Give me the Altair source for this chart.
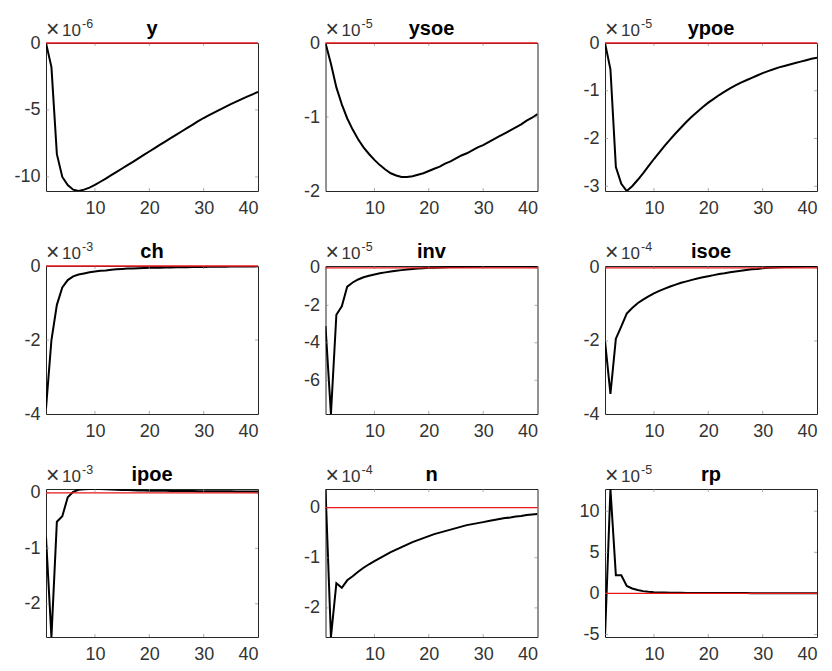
import altair as alt
import pandas as pd

T = list(range(1, 41))

names = ["y", "ysoe", "ypoe", "ch", "inv", "isoe", "ipoe", "n", "rp"]
exponents = ["-6", "-5", "-5", "-3", "-5", "-4", "-3", "-4", "-5"]

y_vals = [0, -1.8, -8.3, -10.0, -10.6, -10.95, -11.04, -10.95, -10.8, -10.6,
          -10.36, -10.12, -9.87, -9.62, -9.37, -9.12, -8.87, -8.61, -8.36, -8.1,
          -7.85, -7.59, -7.34, -7.09, -6.84, -6.59, -6.34, -6.09, -5.84, -5.6,
          -5.39, -5.18, -4.97, -4.77, -4.57, -4.38, -4.19, -4.01, -3.83, -3.65]
ysoe_vals = [0, -0.28, -0.6, -0.83, -1.02, -1.17, -1.30, -1.41, -1.50, -1.58,
             -1.65, -1.71, -1.76, -1.79, -1.81, -1.81, -1.80, -1.78, -1.76, -1.73,
             -1.70, -1.67, -1.63, -1.60, -1.56, -1.52, -1.49, -1.45, -1.41, -1.38,
             -1.34, -1.30, -1.26, -1.22, -1.18, -1.14, -1.10, -1.05, -1.01, -0.96]
ypoe_vals = [0, -0.55, -2.6, -2.95, -3.1, -3.0, -2.87, -2.73, -2.58, -2.43,
             -2.29, -2.15, -2.02, -1.89, -1.77, -1.65, -1.54, -1.44, -1.34, -1.25,
             -1.17, -1.09, -1.02, -0.95, -0.89, -0.83, -0.78, -0.73, -0.68, -0.63,
             -0.59, -0.55, -0.51, -0.48, -0.45, -0.42, -0.39, -0.36, -0.33, -0.31]
ch_vals = [-3.85, -2.0, -1.05, -0.58, -0.38, -0.28, -0.23, -0.2, -0.17, -0.15,
           -0.13, -0.12, -0.1, -0.09, -0.08, -0.07, -0.065, -0.06, -0.055, -0.05,
           -0.047, -0.044, -0.041, -0.038, -0.035, -0.033, -0.031, -0.029, -0.027, -0.025,
           -0.023, -0.021, -0.019, -0.018, -0.016, -0.015, -0.013, -0.012, -0.011, -0.01]
inv_vals = [-3.1, -7.8, -2.5, -2.05, -1.0, -0.78, -0.62, -0.5, -0.42, -0.35,
            -0.29, -0.24, -0.19, -0.15, -0.12, -0.09, -0.06, -0.04, -0.02, 0.0,
            0.01, 0.02, 0.03, 0.04, 0.05, 0.05, 0.06, 0.06, 0.06, 0.07,
            0.07, 0.07, 0.07, 0.08, 0.08, 0.08, 0.08, 0.08, 0.08, 0.08]
isoe_vals = [-2.0, -3.45, -1.94, -1.6, -1.25, -1.1, -0.97, -0.87, -0.78, -0.7,
             -0.63, -0.57, -0.51, -0.46, -0.41, -0.37, -0.33, -0.29, -0.26, -0.23,
             -0.2, -0.17, -0.15, -0.12, -0.1, -0.08, -0.06, -0.04, -0.03, -0.01,
             0.0, 0.01, 0.015, 0.02, 0.025, 0.03, 0.03, 0.035, 0.035, 0.04]
ipoe_vals = [-0.8, -2.6, -0.52, -0.42, -0.08, 0.02, 0.055, 0.065, 0.07, 0.07,
             0.068, 0.065, 0.06, 0.057, 0.054, 0.05, 0.048, 0.045, 0.043, 0.04,
             0.039, 0.038, 0.037, 0.036, 0.035, 0.034, 0.033, 0.032, 0.031, 0.03,
             0.03, 0.029, 0.029, 0.028, 0.028, 0.027, 0.027, 0.026, 0.026, 0.025]
n_vals = [0.37, -2.58, -1.51, -1.6, -1.45, -1.37, -1.28, -1.2, -1.13, -1.07,
          -1.01, -0.95, -0.89, -0.84, -0.79, -0.74, -0.69, -0.65, -0.61, -0.57,
          -0.53, -0.5, -0.47, -0.44, -0.41, -0.38, -0.35, -0.33, -0.31, -0.29,
          -0.27, -0.25, -0.23, -0.21, -0.2, -0.18, -0.17, -0.15, -0.14, -0.13]
rp_vals = [-5.3, 12.7, 2.2, 2.2, 0.9, 0.6, 0.42, 0.28, 0.2, 0.15,
           0.12, 0.1, 0.08, 0.07, 0.07, 0.06, 0.06, 0.05, 0.05, 0.05,
           0.05, 0.04, 0.04, 0.04, 0.04, 0.04, 0.04, 0.03, 0.03, 0.03,
           0.03, 0.03, 0.03, 0.03, 0.03, 0.03, 0.03, 0.03, 0.03, 0.03]

series = [y_vals, ysoe_vals, ypoe_vals, ch_vals, inv_vals, isoe_vals, ipoe_vals, n_vals, rp_vals]
y_domains = [[-11.05, 0], [-2, 0], [-3.1, 0], [-4, 0], [-7.8, 0.1],
             [-4, 0.05], [-2.6, 0.07], [-2.58, 0.37], [-5.3, 12.7]]
y_ticks = [[-10, -5, 0], [-2, -1, 0], [-3, -2, -1, 0], [-4, -2, 0], [-6, -4, -2, 0],
           [-4, -2, 0], [-2, -1, 0], [-2, -1, 0], [-5, 0, 5, 10]]
x_ticks = [10, 20, 30, 40]

W, H = 212, 148
FONT = "Liberation Sans"
AX = "#262626"
TXT = "#333333"


def panel(name, exp, vals, dom, tks):
    df = pd.DataFrame({"t": T, "v": vals})
    xs = alt.Scale(domain=[1, 40], nice=False, zero=False)
    ys = alt.Scale(domain=dom, nice=False, zero=False)
    xa = alt.Axis(values=x_ticks, title=None, labelExpr="datum.value + ''")
    ya = alt.Axis(values=tks, title=None, labelExpr="datum.value + ''")
    line = alt.Chart(df).mark_line(color="black", strokeWidth=2, clip=True).encode(
        x=alt.X("t:Q", scale=xs, axis=xa),
        y=alt.Y("v:Q", scale=ys, axis=ya),
    )
    zero = alt.Chart(pd.DataFrame({"z": [0]})).mark_rule(color="#e8191b", strokeWidth=1.3).encode(
        y=alt.Y("z:Q", scale=ys, axis=ya)
    )
    xt = pd.DataFrame({"t": x_ticks[:-1]})
    yt = pd.DataFrame({"v": [v for v in tks if dom[0] < v < dom[1]]})
    tb = alt.Chart(xt).mark_rule(color="#888888", strokeWidth=0.7).encode(
        x=alt.X("t:Q", scale=xs, axis=xa), y=alt.value(H), y2=alt.value(H - 3))
    tt = alt.Chart(xt).mark_rule(color="#888888", strokeWidth=0.7).encode(
        x=alt.X("t:Q", scale=xs, axis=xa), y=alt.value(0), y2=alt.value(3))
    tl = alt.Chart(yt).mark_rule(color="#888888", strokeWidth=0.7).encode(
        y=alt.Y("v:Q", scale=ys, axis=ya), x=alt.value(0), x2=alt.value(3))
    tr = alt.Chart(yt).mark_rule(color="#888888", strokeWidth=0.7).encode(
        y=alt.Y("v:Q", scale=ys, axis=ya), x=alt.value(W), x2=alt.value(W - 3))
    lab = pd.DataFrame({"title": [name], "times": ["\u00d7"], "ten": ["10"], "exp": [exp]})
    title = alt.Chart(lab).mark_text(font=FONT, fontSize=20, fontWeight="bold", color="black",
                                     align="center", baseline="alphabetic").encode(
        text="title:N", x=alt.value(W / 2), y=alt.value(-8))
    times = alt.Chart(lab).mark_text(font=FONT, fontSize=23, color=TXT,
                                     align="left", baseline="alphabetic").encode(
        text="times:N", x=alt.value(0), y=alt.value(-6))
    ten = alt.Chart(lab).mark_text(font=FONT, fontSize=17, color=TXT,
                                   align="left", baseline="alphabetic").encode(
        text="ten:N", x=alt.value(16), y=alt.value(-7))
    sup = alt.Chart(lab).mark_text(font=FONT, fontSize=12.5, color=TXT,
                                   align="left", baseline="alphabetic").encode(
        text="exp:N", x=alt.value(36), y=alt.value(-15))
    return alt.layer(line, tb, tt, tl, tr, zero, title, times, ten, sup).properties(width=W, height=H)


panels = [panel(n, e, s, d, t) for n, e, s, d, t in zip(names, exponents, series, y_domains, y_ticks)]

chart = alt.concat(*panels, columns=3, spacing={"row": 75, "column": 67.5}, bounds="flush").configure_axis(
    domain=False, ticks=False, grid=False, labelFont=FONT, labelFontSize=18,
    labelColor=TXT, labelPadding=6
).configure_axisX(labelPadding=8).configure_view(
    stroke=AX, strokeWidth=1
).properties(background="white", padding={"top": 9, "left": 5, "right": 5, "bottom": 5})

chart.save("out.html", embed_options={"renderer": "svg", "actions": False})
